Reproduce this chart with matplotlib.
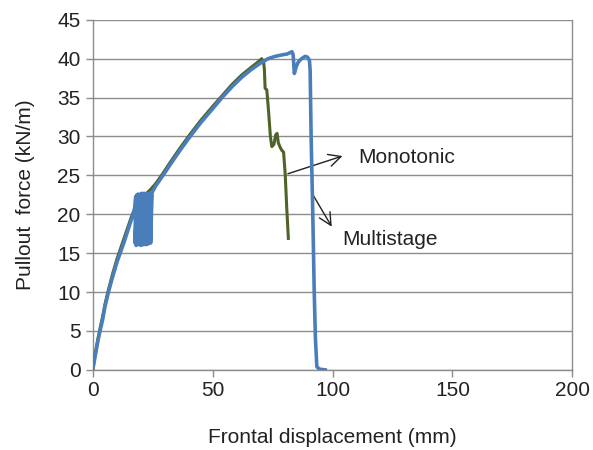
import numpy as np
import matplotlib.pyplot as plt

plt.rcParams['font.family'] = ['Liberation Sans', 'DejaVu Sans']

# Monotonic test (green)
mono_x = [0, 1, 2, 3, 4, 5, 6.4, 8, 10, 12, 14, 16, 18, 20, 22, 24, 26, 29,
          32, 36, 40.5, 45, 50, 54, 58, 62, 66, 68.5, 70.4,
          71.2, 71.5, 71.8, 72.5, 73.2, 74.0, 74.6, 75.5, 76.2, 76.8, 77.3,
          78.1, 78.8, 79.5, 80.2, 80.8, 81.5]
mono_y = [0.2, 2.3, 4.0, 5.5, 6.9, 8.5, 10.3, 12.2, 14.3, 16.1, 17.9, 19.7,
          21.1, 22.0, 22.6, 23.2, 23.9, 25.2, 26.6, 28.4, 30.3, 32.1, 33.9,
          35.3, 36.7, 37.9, 38.9, 39.5, 40.0,
          39.5, 38.6, 36.2, 36.0, 33.4, 30.0, 28.7, 29.0, 30.2, 30.4, 29.2,
          28.6, 28.2, 28.0, 25.1, 21.0, 16.9]

# Multistage test (blue), with unload/reload cycles around 18-24 mm
multi_x = [0, 1, 2, 2.9, 4, 5, 6.4, 8, 10, 11.3, 13, 15, 16.7, 17.5,
           17.8, 17.5, 18.3, 18.0, 18.8, 18.5, 19.3, 19.0, 19.8, 19.5,
           20.3, 20.0, 20.8, 20.5, 21.3, 21.0, 21.8, 21.5, 22.3, 22.0,
           22.8, 22.5, 23.3, 23.0, 23.8, 23.5, 24.3, 24.0, 24.6,
           26, 29.2, 32, 36, 40.5, 45, 50, 53.8, 58, 62, 66, 69.7, 73, 76,
           79, 81, 83, 83.5, 84, 84.8, 85.7, 87, 88.5, 89.5, 90.3, 90.6,
           91.0, 91.7, 92.3, 92.8, 93.4, 94.5, 96.9]
multi_y = [0.3, 2.0, 3.7, 5.0, 6.5, 8.2, 10.0, 11.8, 13.9, 15.0, 16.5, 18.4,
           20.0, 21.0,
           22.3, 16.3, 22.5, 16.0, 22.6, 16.2, 22.5, 16.1, 22.6, 16.3,
           22.7, 16.0, 22.6, 16.2, 22.7, 16.1, 22.6, 16.3, 22.7, 16.1,
           22.6, 16.2, 22.7, 16.2, 22.6, 16.4, 22.5, 16.3, 22.8,
           23.6, 25.0, 26.3, 28.1, 30.0, 31.8, 33.6, 35.0, 36.4, 37.6, 38.6,
           39.4, 40.0, 40.3, 40.5, 40.6, 40.9, 40.5, 38.1, 39.0, 39.6, 40.0,
           40.3, 40.2, 39.8, 38.5, 30.0, 20.0, 10.0, 4.0, 0.4, 0.1, 0.0]

fig = plt.figure(figsize=(5.93, 4.5), dpi=100)
ax = fig.add_axes([0.157, 0.178, 0.808, 0.778])

ax.plot(mono_x, mono_y, color='#4F6228', lw=2.2, zorder=3)
ax.plot(multi_x, multi_y, color='#4A7EBB', lw=2.6, zorder=4)

ax.set_xlim(0, 200)
ax.set_ylim(0, 45)
ax.set_xticks(np.arange(0, 201, 50))
ax.set_yticks(np.arange(0, 46, 5))
ax.yaxis.grid(True, color='#8c8c8c', lw=1)
ax.set_axisbelow(True)
for s in ax.spines.values():
    s.set_color('#8c8c8c')
    s.set_linewidth(1)
ax.spines['top'].set_visible(False)
ax.tick_params(colors='#8c8c8c', labelcolor='#222222', labelsize=15,
               length=5, width=1, direction='out')
ax.tick_params(axis='x', pad=3)
ax.tick_params(axis='y', pad=4)

ax.set_xlabel('Frontal displacement (mm)', fontsize=15, color='#222222', labelpad=20)
ax.set_ylabel('Pullout  force (kN/m)', fontsize=15, color='#222222', labelpad=16)

arrow = dict(arrowstyle='->', color='#222222', lw=1, mutation_scale=22)
ax.annotate('', xy=(105.2, 27.6), xytext=(80.2, 25.1), arrowprops=arrow)
ax.text(110.6, 27.3, 'Monotonic', fontsize=15, color='#222222', va='center')
ax.annotate('', xy=(100.2, 18.1), xytext=(91.0, 22.9), arrowprops=arrow)
ax.text(104.0, 16.7, 'Multistage', fontsize=15, color='#222222', va='center')

fig.savefig('out.png', dpi=100)
